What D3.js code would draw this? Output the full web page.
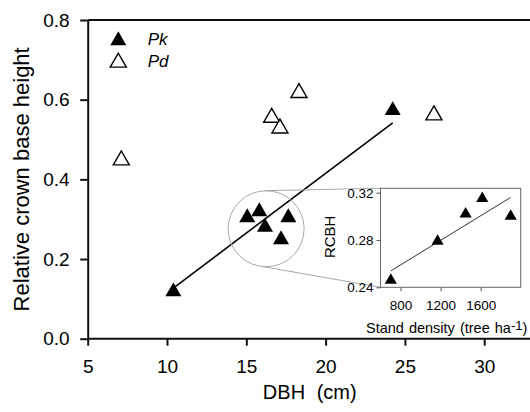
<!DOCTYPE html>
<html>
<head>
<meta charset="utf-8">
<script src="https://cdn.jsdelivr.net/npm/d3@7"></script>
<style>
  body { margin: 0; background: #fff; }
  svg { display: block; }
  text { font-family: "Liberation Sans", Arial, Helvetica, sans-serif; fill: #000; }
</style>
</head>
<body>
<svg id="chart" width="530" height="412"></svg>
<script>
// Relative crown base height vs. DBH, by species
const pkDBH  = [10.40, 15.06, 15.82, 16.18, 17.19, 17.65, 24.23];
const pkRCBH = [0.118, 0.304, 0.319, 0.280, 0.249, 0.304, 0.573];
const pdDBH  = [7.12, 16.60, 17.12, 18.32, 26.83];
const pdRCBH = [0.448, 0.555, 0.528, 0.617, 0.561];
// Linear fit for Pk: [intercept, slope]
const pkFitCoef = [-0.185, 0.030];

// Inset: RCBH of the Pk cluster vs. stand density
const standDensity = [703, 1170, 1450, 1616, 1900];
const standRCBH    = [0.246, 0.279, 0.302, 0.315, 0.300];
const densityFitCoef = [0.2174, 0.0000519];

// Tick values
const dbhTicks = [5, 10, 15, 20, 25, 30];
const rcbhTicks = [0.0, 0.2, 0.4, 0.6, 0.8];
const densityTicks = [800, 1200, 1600];
const insetRcbhTicks = [0.24, 0.28, 0.32];

const legendItems = [
  { name: "Pk", filled: true },
  { name: "Pd", filled: false }
];

const svg = d3.select("#chart");

// Main panel
const plot = { left: 87.7, right: 531.8, top: 20, bottom: 338.7 };
const x = d3.scaleLinear().domain([5, 33]).range([plot.left, plot.right]);
const y = d3.scaleLinear().domain([0, 0.8]).range([plot.bottom, plot.top]);

const triBig = d3.symbol().type(d3.symbolTriangle).size(111);
const triSmall = d3.symbol().type(d3.symbolTriangle).size(64);

// Frame top edge
svg.append("line")
  .attr("x1", plot.left).attr("x2", plot.right)
  .attr("y1", plot.top).attr("y2", plot.top)
  .attr("stroke", "#111").attr("stroke-width", 2);

// Axes
const xAxis = svg.append("g")
  .attr("transform", `translate(0,${plot.bottom})`)
  .call(d3.axisBottom(x).tickValues(dbhTicks).tickSize(7).tickSizeOuter(0).tickPadding(13.5)
    .tickFormat(d3.format("d")));
const yAxis = svg.append("g")
  .attr("transform", `translate(${plot.left},0)`)
  .call(d3.axisLeft(y).tickValues(rcbhTicks).tickSize(7.5).tickSizeOuter(0).tickPadding(10.5)
    .tickFormat(d3.format(".1f")));
[xAxis, yAxis].forEach(g => {
  g.selectAll("path.domain").attr("stroke", "#111").attr("stroke-width", 2);
  g.selectAll(".tick line").attr("stroke", "#111").attr("stroke-width", 2);
  g.selectAll(".tick text").attr("font-size", 19).attr("font-family", null).attr("fill", "#000");
});
xAxis.select("path.domain").attr("d", `M${plot.left},0H${plot.right}`);

// Axis titles
svg.append("text")
  .attr("x", (plot.left + plot.right) / 2).attr("y", 399)
  .attr("text-anchor", "middle").attr("font-size", 20)
  .style("word-spacing", "6px")
  .text("DBH (cm)");
svg.append("text")
  .attr("transform", `translate(29.3,${(plot.top + plot.bottom) / 2}) rotate(-90)`)
  .attr("text-anchor", "middle").attr("font-size", 22)
  .text("Relative crown base height");

// Pk regression line
const pkExtent = d3.extent(pkDBH);
svg.append("line")
  .attr("x1", x(pkExtent[0])).attr("y1", y(pkFitCoef[0] + pkFitCoef[1] * pkExtent[0]))
  .attr("x2", x(pkExtent[1])).attr("y2", y(pkFitCoef[0] + pkFitCoef[1] * pkExtent[1]))
  .attr("stroke", "#000").attr("stroke-width", 1.6);

// Callout circle around the Pk cluster, and inset box geometry
const callout = { cx: x(16.25), cy: y(0.276), r: 38 };
const inset = { left: 380.5, right: 520.7, top: 188.3, bottom: 287.3 };

svg.append("circle")
  .attr("cx", callout.cx).attr("cy", callout.cy).attr("r", callout.r)
  .attr("fill", "none").attr("stroke", "#a8a8a8").attr("stroke-width", 1);
svg.append("line")
  .attr("x1", callout.cx - 2.5).attr("y1", callout.cy - callout.r)
  .attr("x2", inset.left).attr("y2", inset.top)
  .attr("stroke", "#a8a8a8").attr("stroke-width", 1);
svg.append("line")
  .attr("x1", callout.cx - 2.5).attr("y1", callout.cy + callout.r)
  .attr("x2", inset.left).attr("y2", inset.bottom)
  .attr("stroke", "#a8a8a8").attr("stroke-width", 1);

// Points
svg.append("g").selectAll("path.pd")
  .data(d3.zip(pdDBH, pdRCBH)).join("path")
  .attr("class", "pd")
  .attr("d", triBig)
  .attr("transform", d => `translate(${x(d[0])},${y(d[1])})`)
  .attr("fill", "#fff").attr("stroke", "#000").attr("stroke-width", 1.4);
svg.append("g").selectAll("path.pk")
  .data(d3.zip(pkDBH, pkRCBH)).join("path")
  .attr("class", "pk")
  .attr("d", triBig)
  .attr("transform", d => `translate(${x(d[0])},${y(d[1])})`)
  .attr("fill", "#000");

// Legend
const legend = svg.append("g").attr("transform", "translate(118.3,40.6)");
legendItems.forEach((item, i) => {
  const row = legend.append("g").attr("transform", `translate(0,${i * 21.9})`);
  row.append("path").attr("d", triBig)
    .attr("fill", item.filled ? "#000" : "#fff")
    .attr("stroke", item.filled ? "none" : "#000").attr("stroke-width", 1.4);
  row.append("text")
    .attr("x", 29.4).attr("y", 4.6)
    .attr("font-size", 17).attr("font-style", "italic")
    .text(item.name);
});

// Inset panel
const ix = d3.scaleLinear().domain([600, 2000]).range([inset.left, inset.right]);
const iy = d3.scaleLinear().domain([0.24, 0.3237]).range([inset.bottom, inset.top]);

svg.append("rect")
  .attr("x", inset.left).attr("y", inset.top)
  .attr("width", inset.right - inset.left).attr("height", inset.bottom - inset.top)
  .attr("fill", "#fff").attr("stroke", "#666").attr("stroke-width", 1);

const ixAxis = svg.append("g")
  .attr("transform", `translate(0,${inset.bottom})`)
  .call(d3.axisBottom(ix).tickValues(densityTicks).tickSize(4).tickSizeOuter(0).tickPadding(9)
    .tickFormat(d3.format("d")));
const iyAxis = svg.append("g")
  .attr("transform", `translate(${inset.left},0)`)
  .call(d3.axisLeft(iy).tickValues(insetRcbhTicks).tickSize(4).tickSizeOuter(0).tickPadding(3)
    .tickFormat(d3.format(".2f")));
[ixAxis, iyAxis].forEach(g => {
  g.select("path.domain").remove();
  g.selectAll(".tick line").attr("stroke", "#555").attr("stroke-width", 1);
  g.selectAll(".tick text").attr("font-size", 13.5).attr("font-family", null).attr("fill", "#000");
});

const dExtent = d3.extent(standDensity);
svg.append("line")
  .attr("x1", ix(dExtent[0])).attr("y1", iy(densityFitCoef[0] + densityFitCoef[1] * dExtent[0]))
  .attr("x2", ix(dExtent[1])).attr("y2", iy(densityFitCoef[0] + densityFitCoef[1] * dExtent[1]))
  .attr("stroke", "#333").attr("stroke-width", 1);

svg.append("g").selectAll("path")
  .data(d3.zip(standDensity, standRCBH)).join("path")
  .attr("d", triSmall)
  .attr("transform", d => `translate(${ix(d[0])},${iy(d[1])})`)
  .attr("fill", "#000");

svg.append("text")
  .attr("transform", `translate(334.5,${(inset.top + inset.bottom) / 2 - 1}) rotate(-90)`)
  .attr("text-anchor", "middle").attr("font-size", 15)
  .text("RCBH");

// Density axis title, kept inside the right edge
const sdLabel = svg.append("text")
  .attr("x", 366).attr("y", 332.7)
  .attr("font-size", 14.5)
  .style("word-spacing", "1px");
sdLabel.append("tspan").text("Stand density (tree ha");
sdLabel.append("tspan").attr("dy", -3).attr("font-size", 13).text("-1");
sdLabel.append("tspan").attr("dy", 3).text(")");
</script>
</body>
</html>
